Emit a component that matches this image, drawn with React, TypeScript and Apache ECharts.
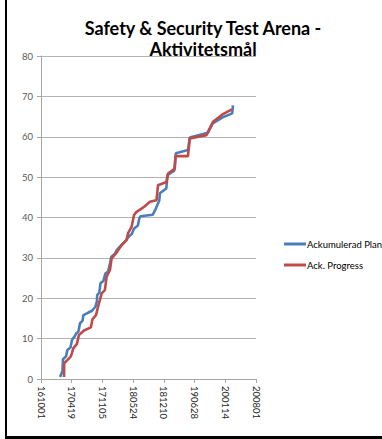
import React, { useEffect, useRef } from "react";
import * as echarts from "echarts";

// Days since 2016-10-01 (axis origin 161001)
const planDays = [124, 140, 143, 163, 172, 192, 202, 218, 228, 244, 254, 270, 276, 306, 332, 354, 364, 366, 380, 387, 406, 419, 437, 449, 458, 481, 494, 520, 546, 566, 592, 605, 631, 640, 647, 728, 748, 762, 770, 774, 816, 824, 868, 878, 957, 969, 1087, 1118, 1183, 1245, 1250];
const planValues = [0.5, 2.0, 4.9, 5.6, 7.2, 7.8, 9.7, 10.5, 11.2, 11.8, 13.8, 14.4, 15.8, 16.4, 16.9, 17.9, 19.2, 20.8, 21.4, 23.7, 24.3, 26.1, 26.6, 28.6, 30.3, 31.0, 32.0, 33.0, 34.0, 35.0, 36.0, 37.2, 38.0, 39.8, 40.3, 40.7, 42.2, 43.5, 44.2, 46.0, 47.2, 50.5, 51.6, 55.9, 56.7, 59.8, 61.0, 63.3, 64.8, 65.8, 67.8];

const progDays = [150, 151, 192, 200, 210, 234, 247, 280, 325, 335, 358, 374, 384, 395, 416, 427, 449, 460, 492, 502, 525, 557, 567, 590, 606, 622, 655, 676, 709, 752, 762, 817, 827, 871, 876, 957, 969, 1077, 1120, 1185, 1243];
const progValues = [0.5, 3.9, 5.5, 6.2, 7.6, 8.7, 10.9, 12.0, 12.8, 14.8, 15.8, 18.3, 19.6, 21.2, 22.0, 25.3, 27.0, 29.9, 31.3, 31.9, 33.2, 34.4, 36.1, 37.7, 40.6, 41.4, 42.2, 42.8, 43.9, 44.3, 48.0, 48.8, 50.9, 52.1, 55.2, 55.2, 59.6, 60.4, 63.7, 65.6, 66.8];

const seriesNames = ["Ackumulerad Plan", "Ack. Progress"];
const titleLines = ["Safety & Security Test Arena -", "Aktivitetsmål"];
const xMin = 0;
const xMax = 1400;
const xStep = 200;
const yMin = 0;
const yMax = 80;
const yStep = 10;

const ORIGIN = Date.UTC(2016, 9, 1);
function fmtDay(v: number): string {
  const d = new Date(ORIGIN + v * 86400000);
  const yy = String(d.getUTCFullYear() % 100).padStart(2, "0");
  const mm = String(d.getUTCMonth() + 1).padStart(2, "0");
  const dd = String(d.getUTCDate()).padStart(2, "0");
  return yy + mm + dd;
}

export default function App() {
  const ref = useRef<HTMLDivElement>(null);
  useEffect(() => {
    if (!ref.current) return;
    const chart = echarts.init(ref.current, undefined, { renderer: "svg" });
    const font = "Lato, 'Open Sans', sans-serif";
    chart.setOption({
      animation: false,
      backgroundColor: "#ffffff",
      textStyle: { fontFamily: font },
      title: {
        text: titleLines.join("\n"),
        left: 198,
        top: 12,
        textAlign: "center",
        textStyle: { fontFamily: font, fontSize: 18, fontWeight: "bold", color: "#000", lineHeight: 21 },
      },
      legend: {
        orient: "vertical",
        left: 279,
        top: 234,
        itemWidth: 22,
        itemHeight: 3,
        itemGap: 11,
        icon: "rect",
        data: seriesNames,
        textStyle: { fontFamily: font, fontSize: 9.5, color: "#000", padding: [0, 0, 0, -4] },
      },
      grid: { left: 41, right: 126, top: 56, bottom: 60 },
      xAxis: {
        type: "value",
        min: xMin,
        max: xMax,
        interval: xStep,
        axisLine: { show: true, lineStyle: { color: "#a6a6a6", width: 1 } },
        axisTick: { show: true, inside: false, length: 4, lineStyle: { color: "#a6a6a6" } },
        splitLine: { show: false },
        axisLabel: {
          rotate: -90,
          formatter: (v: number) => fmtDay(v),
          fontFamily: font,
          fontSize: 9.5,
          color: "#262626",
          margin: 7,
        },
      },
      yAxis: {
        type: "value",
        min: yMin,
        max: yMax,
        interval: yStep,
        axisLine: { show: true, lineStyle: { color: "#a6a6a6", width: 1 } },
        axisTick: { show: true, inside: false, length: 4, lineStyle: { color: "#a6a6a6" } },
        splitLine: { show: true, lineStyle: { color: "#b3b3b3", width: 1 } },
        axisLabel: { fontFamily: font, fontSize: 9.5, color: "#595959", margin: 8 },
      },
      series: [
        {
          name: seriesNames[0],
          type: "line",
          symbol: "none",
          data: planDays.map((d, i) => [d, planValues[i]]),
          lineStyle: { color: "#4a7ebb", width: 2.6 },
          itemStyle: { color: "#4a7ebb" },
          z: 2,
        },
        {
          name: seriesNames[1],
          type: "line",
          symbol: "none",
          data: progDays.map((d, i) => [d, progValues[i]]),
          lineStyle: { color: "#be4b48", width: 2.6 },
          itemStyle: { color: "#be4b48" },
          z: 3,
        },
      ],
      graphic: [
        { type: "rect", left: 5, top: 0, shape: { width: 2, height: 439 }, style: { fill: "#000" } },
        { type: "rect", left: 5, top: 436, shape: { width: 377, height: 3 }, style: { fill: "#000" } },
      ],
    });
    return () => chart.dispose();
  }, []);
  return (
    <div
      ref={ref}
      style={{ position: "absolute", left: 0, top: 0, width: 382, height: 439 }}
    />
  );
}
